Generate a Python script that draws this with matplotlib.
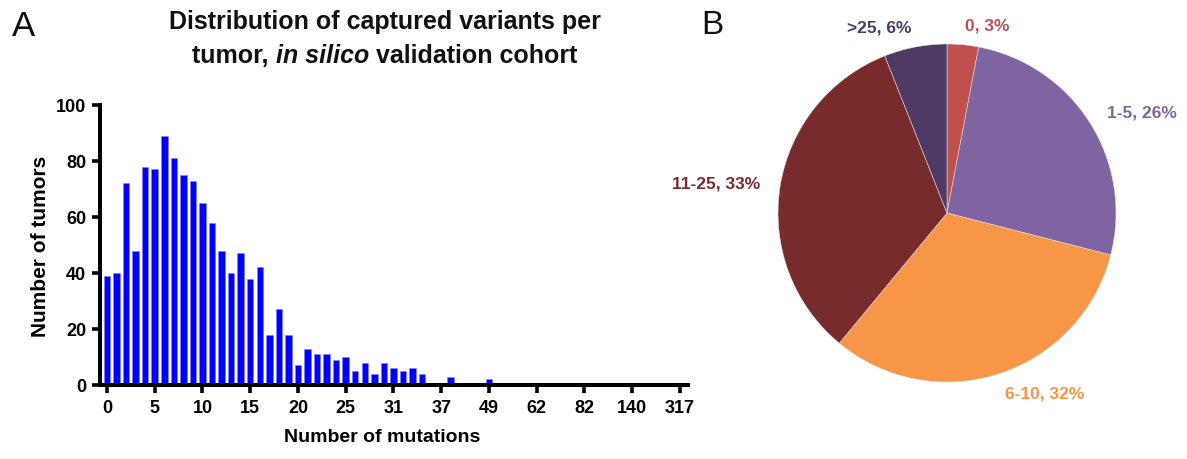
import matplotlib
matplotlib.use("Agg")
import matplotlib.pyplot as plt
import numpy as np

# ---------------- data ----------------
# tumor counts per distinct number-of-mutations category (61 categories)
tumor_counts = [39, 40, 72, 48, 78, 77, 89, 81, 75, 73,
                65, 58, 48, 40, 47, 38, 42, 18, 27, 18,
                7, 13, 11, 11, 9, 10, 5, 8, 4, 8,
                6, 5, 6, 4, 0, 0, 3, 0, 0, 0,
                2, 0, 0, 0, 0, 0, 0, 0, 0, 0,
                0, 0, 0, 0, 0, 0, 0, 0, 0, 0,
                0]
x_tick_labels = ["0", "5", "10", "15", "20", "25", "31", "37", "49",
                 "62", "82", "140", "317"]
y_ticks = [0, 20, 40, 60, 80, 100]

pie_groups = ["0", "1-5", "6-10", "11-25", ">25"]
pie_percent = [3, 26, 32, 33, 6]
pie_colors = ["#C0504D", "#8064A2", "#F79646", "#772B2A", "#4E3A62"]

# ---------------- figure ----------------
W, H = 1187, 460
fig = plt.figure(figsize=(W / 100, H / 100), dpi=100)

sans = ["Liberation Sans", "DejaVu Sans"]

# ---- panel A: bar chart ----
left_px, right_px, top_px, bot_px = 100, 688, 106, 386
axA = fig.add_axes([left_px / W, 1 - bot_px / H,
                    (right_px - left_px) / W, (bot_px - top_px) / H])
idx = np.arange(len(tumor_counts))
axA.bar(idx, tumor_counts, width=0.68, color="#0000FF",
        edgecolor="#8080ff", linewidth=0.4, zorder=2)
axA.set_xlim(-0.73, 60.85)
axA.set_ylim(0, 100)
axA.set_xticks(idx[::5])
axA.set_xticklabels(x_tick_labels)
axA.set_yticks(y_ticks)
for s in ["top", "right"]:
    axA.spines[s].set_visible(False)
for s in ["left", "bottom"]:
    axA.spines[s].set_linewidth(2.9)
    axA.spines[s].set_zorder(3)
axA.tick_params(axis="both", direction="out", length=6, width=2.6,
                labelsize=13, pad=4)
for lab in axA.get_xticklabels() + axA.get_yticklabels():
    lab.set_family(sans)
    lab.set_fontweight("bold")
axA.set_xlabel("Number of mutations", fontsize=14, fontweight="bold",
               family=sans, labelpad=9)
axA.xaxis.label.set_x(0.48)
axA.set_ylabel("Number of tumors", fontsize=15, fontweight="bold",
               family=sans, labelpad=4)

# title (two lines, "in silico" italic)
tkw = dict(fontsize=18, fontweight="bold", family=sans, color="#111111",
           va="center")
fig.text(385 / W, 1 - 22 / H, "Distribution of captured variants per",
         ha="center", **tkw)
parts = [("tumor, ", "normal"), ("in silico", "italic"),
         (" validation cohort", "normal")]
renderer = fig.canvas.get_renderer()
objs = []
widths = []
for s, style in parts:
    t = fig.text(0, 1 - 56 / H, s, ha="left", style=style, **tkw)
    bb = t.get_window_extent(renderer=renderer)
    objs.append(t)
    widths.append(bb.width)
total = sum(widths)
x0 = 385 - total / 2
for t, w in zip(objs, widths):
    t.set_x(x0 / W)
    x0 += w

fig.text(24 / W, 1 - 26 / H, "A", ha="center", va="center",
         fontsize=25, family=sans, color="#111111")
fig.text(712 / W, 1 - 26 / H, "B", ha="center", va="center",
         fontsize=24, family=sans, color="#111111")

# ---- panel B: pie chart ----
cx, cy, r = 947, 214, 169
axB = fig.add_axes([(cx - r) / W, 1 - (cy + r) / H, 2 * r / W, 2 * r / H])
labels = [f"{g}, {p}%" for g, p in zip(pie_groups, pie_percent)]
wedges, texts = axB.pie(pie_percent, labels=labels, colors=pie_colors,
                        startangle=90, counterclock=False,
                        labeldistance=1.12,
                        wedgeprops=dict(edgecolor="#dddddd", linewidth=0.4),
                        textprops=dict(fontsize=12.5, fontweight="bold",
                                       family=sans))
for t, c in zip(texts, pie_colors):
    t.set_color(c)
axB.set_xlim(-1, 1)
axB.set_ylim(-1, 1)
axB.set_aspect("equal")
axB.axis("off")

fig.savefig("out.png", dpi=100)
